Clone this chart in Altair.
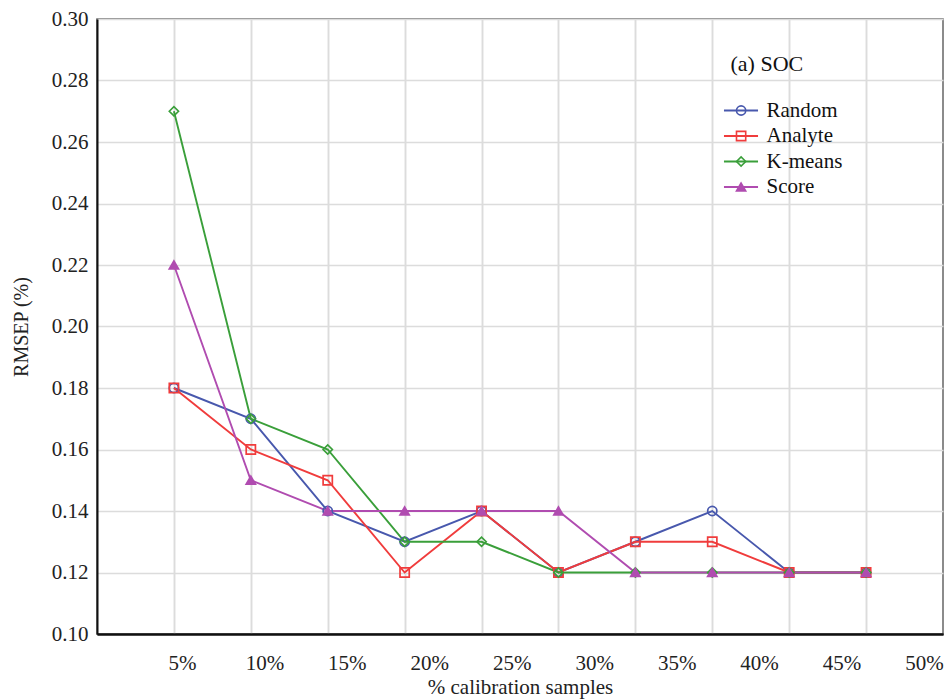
import altair as alt
import pandas as pd

# ---- data ----
pct = [5, 10, 15, 20, 25, 30, 35, 40, 45, 50]
series = ["Random", "Analyte", "K-means", "Score"]
marker_keys = ["m-Random", "m-Analyte", "m-K-means", "m-Score"]
random_v = [0.18, 0.17, 0.14, 0.13, 0.14, 0.12, 0.13, 0.14, 0.12, 0.12]
analyte_v = [0.18, 0.16, 0.15, 0.12, 0.14, 0.12, 0.13, 0.13, 0.12, 0.12]
kmeans_v = [0.27, 0.17, 0.16, 0.13, 0.13, 0.12, 0.12, 0.12, 0.12, 0.12]
score_v = [0.22, 0.15, 0.14, 0.14, 0.14, 0.14, 0.12, 0.12, 0.12, 0.12]
y_ticks = [0.10, 0.12, 0.14, 0.16, 0.18, 0.20, 0.22, 0.24, 0.26, 0.28, 0.30]

colors = ["#4858ad", "#f03c3c", "#3a9f3a", "#b04cb0"]
fills = ["transparent", "transparent", "transparent", "#b04cb0"]
shapes = ["circle", "square", "diamond", "triangle-up"]

rows = []
for name, key, vals in zip(series, marker_keys, [random_v, analyte_v, kmeans_v, score_v]):
    for p, v in zip(pct, vals):
        rows.append({"pct": p, "value": v, "Series": name, "Mark": key})
df = pd.DataFrame(rows)
lab_df = pd.DataFrame({"pct": pct})

FONT = "Liberation Serif"

x_main = alt.X(
    "pct:Q",
    scale=alt.Scale(domain=[0, 55], nice=False, zero=False),
    axis=alt.Axis(values=pct, labels=False, ticks=False, grid=True,
                  gridColor="#dcdcdc", gridWidth=1.5,
                  domainColor="#111111", domainWidth=2,
                  title=None, orient="bottom"),
)
y_main = alt.Y(
    "value:Q",
    scale=alt.Scale(domain=[0.10, 0.30], nice=False, zero=False),
    axis=alt.Axis(values=y_ticks, format=".2f", grid=True, ticks=False,
                  gridColor="#dcdcdc", gridWidth=1.5,
                  domainColor="#111111", domainWidth=2,
                  labelFont=FONT, labelFontSize=21, labelColor="#222222",
                  labelPadding=9, labelFlush=False,
                  title="RMSEP (%)", titleFont=FONT, titleFontSize=20,
                  titleFontWeight="normal", titleColor="#222222",
                  titlePadding=20),
)

# long horizontal stroke symbol whose nominal size stays small
legend_a = alt.Legend(
    orient="none", legendX=633.5, legendY=35, padding=0,
    title="(a) SOC", titleFont=FONT, titleFontSize=22, titleFontWeight="normal",
    titleColor="#111111", titlePadding=24,
    labelFont=FONT, labelFontSize=21, labelColor="#111111", labelOffset=15,
    symbolType="M-2,0H2", symbolSize=290, symbolStrokeWidth=2,
    rowPadding=3.5,
)
legend_b = alt.Legend(
    orient="none", legendX=633.6, legendY=35, padding=0,
    title=" ", titleFont=FONT, titleFontSize=22, titleFontWeight="normal",
    titlePadding=24,
    labelFont=FONT, labelFontSize=21, labelOpacity=0, labelOffset=15,
    labelExpr="' '",
    symbolSize=85, symbolStrokeWidth=1.6,
    rowPadding=3.5,
)

lines = alt.Chart(df).mark_line(strokeWidth=1.9).encode(
    x=x_main, y=y_main,
    color=alt.Color("Series:N", scale=alt.Scale(domain=series, range=colors),
                    sort=series, legend=legend_a),
)

points = alt.Chart(df).mark_point(size=85, strokeWidth=1.7, opacity=1).encode(
    x=x_main, y=y_main,
    stroke=alt.Stroke("Mark:N", scale=alt.Scale(domain=marker_keys, range=colors),
                      sort=marker_keys, legend=legend_b),
    fill=alt.Fill("Mark:N", scale=alt.Scale(domain=marker_keys, range=fills),
                  sort=marker_keys, legend=legend_b),
    shape=alt.Shape("Mark:N", scale=alt.Scale(domain=marker_keys, range=shapes),
                    sort=marker_keys, legend=legend_b),
)

labels_layer = alt.Chart(lab_df).mark_point(opacity=0).encode(
    x=alt.X("pct:Q",
            scale=alt.Scale(domain=[-0.15, 51.15], nice=False, zero=False),
            axis=alt.Axis(values=pct, labelExpr="datum.value + '%'",
                          grid=False, ticks=False, domain=False,
                          labelFont=FONT, labelFontSize=21, labelColor="#222222",
                          labelPadding=18, labelFlush=False, labelOverlap=False,
                          title="% calibration samples", titleFont=FONT,
                          titleFontSize=21, titleFontWeight="normal",
                          titleColor="#222222", titlePadding=3,
                          orient="bottom")),
)

chart = (
    alt.layer(lines, points, labels_layer)
    .resolve_scale(x="independent")
    .properties(
        width=846, height=615,
        autosize=alt.AutoSizeParams(type="none"),
        padding={"left": 97, "top": 19, "right": 2, "bottom": 66},
        background="white",
    )
    .configure(font=FONT)
    .configure_axis(labelFont=FONT, titleFont=FONT)
    .configure_legend(labelFont=FONT, titleFont=FONT)
    .configure_view(stroke="#666666", strokeWidth=1.5)
)

chart.save("out.html", embed_options={"renderer": "svg", "actions": False})
